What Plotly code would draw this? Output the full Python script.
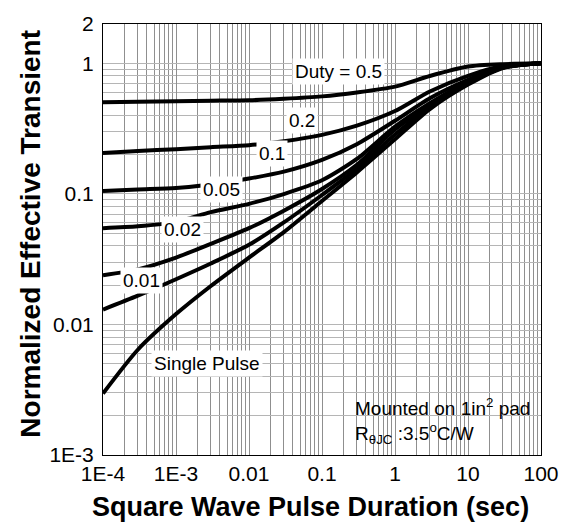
import math
import plotly.graph_objects as go

# ---- data ----
pulse_duration = [1e-4, 3e-4, 1e-3, 3e-3, 0.01, 0.03, 0.1, 0.3, 1, 3, 10, 30, 100]

duty_0_5 = [0.504, 0.508, 0.513, 0.517, 0.521, 0.535, 0.558, 0.598, 0.663, 0.800, 0.945, 0.985, 1.0]
duty_0_2 = [0.206, 0.213, 0.220, 0.228, 0.236, 0.253, 0.283, 0.333, 0.431, 0.609, 0.802, 0.953, 1.0]
duty_0_1 = [0.105, 0.108, 0.111, 0.118, 0.131, 0.148, 0.182, 0.240, 0.363, 0.540, 0.748, 0.936, 1.0]
duty_0_05 = [0.0546, 0.0564, 0.0610, 0.0725, 0.0839, 0.0997, 0.127, 0.185, 0.327, 0.495, 0.723, 0.929, 1.0]
duty_0_02 = [0.0238, 0.0264, 0.0325, 0.0414, 0.0546, 0.0744, 0.109, 0.167, 0.311, 0.478, 0.711, 0.929, 1.0]
duty_0_01 = [0.0130, 0.0166, 0.0222, 0.0293, 0.0407, 0.0604, 0.098, 0.156, 0.285, 0.462, 0.699, 0.929, 1.0]
single_pulse = [0.00296, 0.00640, 0.0120, 0.0197, 0.0325, 0.0509, 0.0883, 0.146, 0.262, 0.446, 0.687, 0.921, 1.0]

series = [duty_0_5, duty_0_2, duty_0_1, duty_0_05, duty_0_02, duty_0_01, single_pulse]

x_major = [1e-4, 1e-3, 1e-2, 1e-1, 1, 10, 100]
x_major_text = ["1E-4", "1E-3", "0.01", "0.1", "1", "10", "100"]
y_major = [1e-3, 1e-2, 1e-1, 1, 2]
y_major_text = ["1E-3", "0.01", "0.1", "1", "2"]

curve_labels = ["Duty = 0.5", "0.2", "0.1", "0.05", "0.02", "0.01", "Single Pulse"]
note_text = "Mounted on 1in<sup>2</sup> pad<br>R<sub>θJC</sub> :3.5<sup>o</sup>C/W"

FONT = "Liberation Sans, Arial, sans-serif"


def minor_vals(lo_exp, hi_exp):
    return [round(m * 10 ** e, 12) for e in range(lo_exp, hi_exp) for m in range(2, 10)]


x_minor = minor_vals(-4, 2)
y_minor = minor_vals(-3, 0)

fig = go.Figure()
for ys in series:
    fig.add_trace(go.Scatter(
        x=pulse_duration, y=ys, mode="lines",
        line=dict(color="black", width=4, shape="spline", smoothing=0.7),
        showlegend=False, hoverinfo="skip"))

W, H = 571, 532
L, R, T, B = 103, 27, 14, 77
pw, ph = W - L - R, H - T - B


def px(xp, yp):
    return (xp - L) / pw, (H - B - yp) / ph


anns = []
label_pos = [(340, 63), (303, 113), (273, 146), (222, 183), (183, 224), (142, 276), (208, 361)]
for txt, (xp, yp) in zip(curve_labels, label_pos):
    ax, ay = px(xp, yp)
    anns.append(dict(x=ax, y=ay, xref="paper", yref="paper", text=txt, showarrow=False,
                     font=dict(family=FONT, size=19, color="black"),
                     bgcolor="white", borderpad=2, xanchor="center", yanchor="middle"))

# note box (white panel covering the grid) + text
x0, y1 = px(330, 393)
x1, y0 = px(530, 447)
shapes = [dict(type="rect", xref="paper", yref="paper", x0=x0, x1=x1, y0=y0, y1=y1,
               fillcolor="white", line=dict(width=0), layer="between")]
nx, ny = px(355, 420)
anns.append(dict(x=nx, y=ny, xref="paper", yref="paper", text=note_text,
                 showarrow=False, align="left",
                 font=dict(family=FONT, size=19, color="black"),
                 xanchor="left", yanchor="middle"))

# axis titles
tx, ty = px(30, 228)
anns.append(dict(x=tx, y=ty, xref="paper", yref="paper", text="<b>Normalized Effective Transient</b>",
                 textangle=-90, showarrow=False, font=dict(family=FONT, size=28, color="black"),
                 xanchor="center", yanchor="middle"))
tx, ty = px(312, 508)
anns.append(dict(x=tx, y=ty, xref="paper", yref="paper", text="<b>Square Wave Pulse Duration (sec)</b>",
                 showarrow=False, font=dict(family=FONT, size=27, color="black"),
                 xanchor="center", yanchor="middle"))

XGRID = "#8f8f8f"
YGRID = "#b5b5b5"

fig.update_layout(
    width=W, height=H, margin=dict(l=L, r=R, t=T, b=B, pad=0),
    paper_bgcolor="white", plot_bgcolor="white",
    font=dict(family=FONT, size=21, color="black"),
    annotations=anns, shapes=shapes,
    xaxis=dict(type="log", range=[-4, 2], tickmode="array", tickvals=x_major, ticktext=x_major_text,
               showgrid=True, gridcolor=XGRID, gridwidth=1,
               minor=dict(tickmode="array", tickvals=x_minor, showgrid=True, gridcolor=XGRID,
                          gridwidth=1, ticks=""),
               showline=True, linecolor="black", linewidth=1,
               mirror=True, ticks="", zeroline=False, tickfont=dict(size=21)),
    yaxis=dict(type="log", range=[-3, math.log10(2)], tickmode="array", tickvals=y_major,
               ticktext=y_major_text, showgrid=True, gridcolor=YGRID, gridwidth=1,
               minor=dict(tickmode="array", tickvals=y_minor, showgrid=True, gridcolor=YGRID,
                          gridwidth=1, ticks=""),
               showline=True, linecolor="black", linewidth=1,
               mirror=True, ticks="", zeroline=False, tickfont=dict(size=21),
               ticklabelstandoff=4),
)

fig.write_html("out.html")
